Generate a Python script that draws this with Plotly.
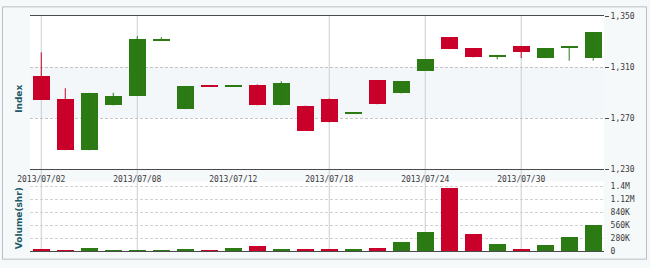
import plotly.graph_objects as go

# ---- data ----
dates = ["2013/07/02", "2013/07/03", "2013/07/04", "2013/07/05", "2013/07/08", "2013/07/09",
         "2013/07/10", "2013/07/11", "2013/07/12", "2013/07/15", "2013/07/16", "2013/07/17",
         "2013/07/18", "2013/07/19", "2013/07/22", "2013/07/23", "2013/07/24", "2013/07/25",
         "2013/07/26", "2013/07/29", "2013/07/30", "2013/07/31", "2013/08/01", "2013/08/02"]
open_ = [1302.7, 1284.6, 1244.8, 1280.0, 1287.6, 1330.8, 1277.0, 1295.3, 1294.5, 1295.9, 1280.0, 1279.8,
         1285.3, 1273.9, 1299.7, 1289.3, 1307.0, 1333.6, 1324.6, 1317.5, 1326.6, 1317.0, 1325.6, 1317.0]
high = [1321.5, 1293.4, 1289.8, 1289.8, 1334.2, 1333.4, 1295.1, 1295.3, 1295.2, 1296.4, 1298.9, 1279.8,
        1285.3, 1274.5, 1299.7, 1298.9, 1316.0, 1333.6, 1324.6, 1319.5, 1326.6, 1324.6, 1326.3, 1337.4]
low = [1284.3, 1244.8, 1244.8, 1280.0, 1287.6, 1330.8, 1277.0, 1294.6, 1294.5, 1280.0, 1280.0, 1259.9,
       1266.7, 1273.9, 1280.8, 1289.3, 1307.0, 1324.0, 1317.5, 1316.0, 1317.0, 1317.0, 1315.0, 1315.0]
close = [1284.3, 1244.8, 1289.8, 1287.4, 1331.6, 1332.3, 1295.1, 1294.6, 1295.2, 1280.0, 1297.6, 1259.9,
         1266.7, 1274.5, 1280.8, 1298.9, 1316.0, 1324.0, 1317.5, 1319.5, 1321.5, 1324.6, 1326.3, 1337.4]
volume = [42000, 20000, 63000, 20000, 20000, 20000, 42000, 20000, 63000, 110000, 42000, 42000,
          60000, 48000, 70000, 210000, 420000, 1360000, 376000, 167000, 48000, 146000, 313000, 564000]

label_every = 4
grid_dates = ["2013/07/02", "2013/07/08", "2013/07/18", "2013/07/24", "2013/07/30"]
price_ticks = [1230, 1270, 1310, 1350]
vol_ticks = [0, 280000, 560000, 840000, 1120000, 1400000]
vol_ticktext = ["0", "280K", "560K", "840K", "1.12M", "1.4M"]

# ---- style ----
UP = "#2b7a14"
DOWN = "#c8002a"
W, H = 650, 268
ML, MR, MT, MB = 30, 46, 12, 12
FONT = "DejaVu Sans Mono"

idx = list(range(len(dates)))
up = [c >= o for o, c in zip(open_, close)]
colors = [UP if u else DOWN for u in up]

fig = go.Figure()

# wicks
for flag, col in ((True, UP), (False, DOWN)):
    xs, ys = [], []
    for i in idx:
        if up[i] == flag:
            xs += [i, i, None]
            ys += [low[i], high[i], None]
    fig.add_trace(go.Scatter(x=xs, y=ys, mode="lines", line=dict(color=col, width=1),
                             hoverinfo="skip", showlegend=False, xaxis="x", yaxis="y"))

# bodies
fig.add_trace(go.Bar(
    x=idx,
    y=[max(abs(c - o), 0.8) for o, c in zip(open_, close)],
    base=[min(o, c) for o, c in zip(open_, close)],
    width=0.7, marker=dict(color=colors, line=dict(width=0)),
    showlegend=False, xaxis="x", yaxis="y"))

# volume
fig.add_trace(go.Bar(x=idx, y=volume, width=0.7, marker=dict(color=colors, line=dict(width=0)),
                     showlegend=False, xaxis="x2", yaxis="y2"))

plot_h = H - MT - MB
price_bottom = (256 - 171) / plot_h
vol_top = (256 - 184) / plot_h

shapes = []
# light band in price panel
shapes.append(dict(type="rect", xref="x domain", yref="y", x0=0, x1=1,
                   y0=price_ticks[1], y1=price_ticks[2],
                   fillcolor="rgba(215,228,236,0.30)", line=dict(width=0), layer="below"))
# vertical grid lines
for d in grid_dates:
    i = dates.index(d)
    shapes.append(dict(type="line", xref="x", yref="paper", x0=i, x1=i, y0=0, y1=1,
                       line=dict(color="#c6cfd6", width=1), layer="below"))
# outer border
pw = W - ML - MR
shapes.append(dict(type="rect", xref="paper", yref="paper",
                   x0=(2.5 - ML) / pw, x1=(W - 3.5 - ML) / pw,
                   y0=-(MB - 3.5) / plot_h, y1=1 + (MT - 2.5) / plot_h,
                   line=dict(color="#b8bec4", width=1), fillcolor="rgba(0,0,0,0)", layer="below"))

annotations = [
    dict(text="<b>Index</b>", xref="paper", yref="paper", x=(19 - ML) / pw, y=1 - (98 - MT) / plot_h,
         textangle=-90, showarrow=False, font=dict(family="DejaVu Sans", size=9, color="#1d5a68"),
         xanchor="center", yanchor="middle"),
    dict(text="<b>Volume(shr)</b>", xref="paper", yref="paper", x=(19 - ML) / pw,
         y=1 - (222 - MT) / plot_h,
         textangle=-90, showarrow=False, font=dict(family="DejaVu Sans", size=9, color="#1d5a68"),
         xanchor="center", yanchor="middle"),
]

xr = [-0.47, len(dates) - 1 + 0.45]
fig.update_layout(
    width=W, height=H,
    margin=dict(l=ML, r=MR, t=MT, b=MB),
    paper_bgcolor="#f6f9fa", plot_bgcolor="#ffffff",
    bargap=0, barmode="overlay",
    font=dict(family=FONT, size=8, color="#3a3a3a"),
    shapes=shapes, annotations=annotations,
    xaxis=dict(domain=[0, 1], anchor="y", range=xr, showgrid=False, zeroline=False,
               showline=True, mirror=True, linecolor="#4a4a4a", linewidth=1,
               tickmode="array", tickvals=idx[::label_every], ticktext=dates[::label_every],
               ticks="", ticklabelstandoff=2, tickfont=dict(family=FONT, size=8, color="#3a3a3a")),
    yaxis=dict(domain=[price_bottom, 1], anchor="x", side="right", range=[price_ticks[0], price_ticks[-1]],
               tickmode="array", tickvals=price_ticks, tickformat=",", ticks="outside", ticklen=4,
               tickcolor="#4a4a4a", showgrid=True, gridcolor="#c4c4c4", griddash="3px,2px",
               zeroline=False, showline=False, tickfont=dict(family=FONT, size=8, color="#3a3a3a")),
    xaxis2=dict(domain=[0, 1], anchor="y2", matches="x", range=xr, showgrid=False, zeroline=False,
                showline=True, linecolor="#4a4a4a", linewidth=1, showticklabels=False, ticks=""),
    yaxis2=dict(domain=[0, vol_top], anchor="x2", side="right", range=[0, 1500000],
                tickmode="array", tickvals=vol_ticks, ticktext=vol_ticktext, ticks="outside", ticklen=4,
                tickcolor="rgba(0,0,0,0)", showgrid=True, gridcolor="#d2d2d2", griddash="3px,2px",
                zeroline=False, showline=False, tickfont=dict(family=FONT, size=8, color="#3a3a3a")),
)

fig.write_html("out.html")
